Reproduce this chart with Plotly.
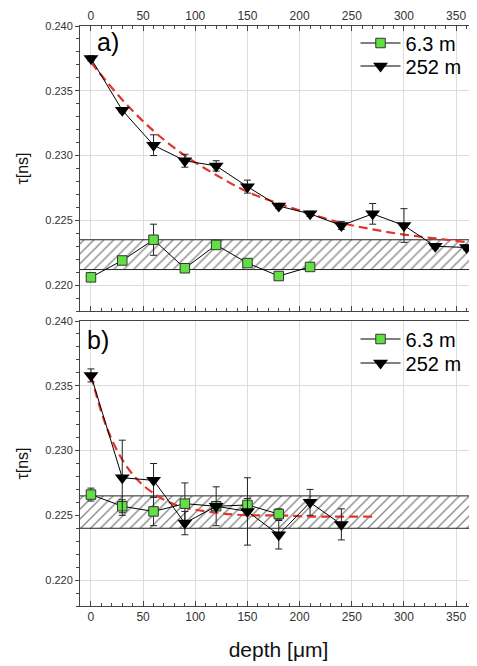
import plotly.graph_objects as go

# ---------------- data ----------------
depth_a_63 = [0, 30, 60, 90, 120, 150, 180, 210]
tau_a_63 = [0.2206, 0.2219, 0.2235, 0.2213, 0.2231, 0.2217, 0.2207, 0.2214]
err_a_63 = [0.0001, 0.0003, 0.0012, 0.0001, 0.0001, 0.0001, 0.0001, 0.0001]

depth_a_252 = [0, 30, 60, 90, 120, 150, 180, 210, 240, 270, 300, 330, 360]
tau_a_252 = [0.2375, 0.2335, 0.2308, 0.2296, 0.2292, 0.2276, 0.2261, 0.2255,
             0.2246, 0.2255, 0.2246, 0.2230, 0.2229]
err_a_252 = [0.0002, 0.0002, 0.0008, 0.0005, 0.0004, 0.0005, 0.0002, 0.0002,
             0.0003, 0.0008, 0.0013, 0.0002, 0.0002]

fit_a_x = [0, 30, 60, 90, 120, 150, 180, 210, 240, 270, 300, 330, 372]
fit_a_y = [0.2372, 0.2343, 0.2319, 0.2300, 0.2285, 0.2272, 0.2263, 0.2255,
           0.2248, 0.2243, 0.2239, 0.2236, 0.2232]

band_a = [0.2212, 0.2235]

depth_b_63 = [0, 30, 60, 90, 120, 150, 180]
tau_b_63 = [0.2266, 0.2257, 0.2253, 0.2259, 0.2257, 0.2258, 0.2251]
err_b_63 = [0.0005, 0.0005, 0.0011, 0.0016, 0.0003, 0.0005, 0.0004]

depth_b_252 = [0, 30, 60, 90, 120, 150, 180, 210, 240]
tau_b_252 = [0.2358, 0.2279, 0.2277, 0.2244, 0.2257, 0.2253, 0.2235, 0.2260, 0.2243]
err_b_252 = [0.0005, 0.0029, 0.0013, 0.0009, 0.0015, 0.0026, 0.0011, 0.0010, 0.0012]

fit_b_x = [0, 15, 30, 45, 60, 75, 90, 120, 150, 180, 210, 240, 270]
fit_b_y = [0.2358, 0.2318, 0.2293, 0.2277, 0.2267, 0.2260, 0.2256, 0.2252,
           0.2250, 0.2250, 0.2249, 0.2249, 0.2249]

band_b = [0.2240, 0.2265]

x_ticks = [0, 50, 100, 150, 200, 250, 300, 350]
y_ticks = [0.220, 0.225, 0.230, 0.235, 0.240]
series_names = ["6.3 m", "252 m"]
panel_labels = ["a)", "b)"]

# ---------------- styling ----------------
FONT = "Liberation Sans, Arial, sans-serif"
GREEN = "#62df45"
RED = "#e3342b"
X_RANGE = [-10.5, 370]
Y_RANGE = [0.218, 0.240]

# the page body has an 8px margin -> figure coords = page coords - 8
OFF = 8
W, H = 477 - OFF, 666 - OFF
top_px, bot_px = 26 - OFF, 606 - OFF
left_px = 80 - OFF
plot_h = bot_px - top_px


def paper_y(page_py):
    return (bot_px - (page_py - OFF)) / plot_h


fig = go.Figure()


def add_panel(xa, ya, legs, band, fx, fy, d63, t63, e63, d252, t252, e252):
    bx = [-30, 420, 420, -30, -30]
    by = [band[0], band[0], band[1], band[1], band[0]]
    fig.add_trace(go.Scatter(
        x=bx, y=by, xaxis=xa, yaxis=ya, mode="none", fill="toself",
        fillcolor="white",
        fillpattern=dict(shape="/", fgcolor="#151515", bgcolor="white",
                         size=7, solidity=0.2),
        showlegend=False, hoverinfo="skip"))
    for yv in band:
        fig.add_trace(go.Scatter(
            x=[-30, 420], y=[yv, yv], xaxis=xa, yaxis=ya, mode="lines",
            line=dict(color="#222222", width=1), showlegend=False,
            hoverinfo="skip"))
    fig.add_trace(go.Scatter(
        x=fx, y=fy, xaxis=xa, yaxis=ya, mode="lines", line_shape="spline",
        line=dict(color=RED, width=2.2, dash="9px,5px"), showlegend=False,
        hoverinfo="skip"))
    fig.add_trace(go.Scatter(
        x=d63, y=t63, xaxis=xa, yaxis=ya, mode="lines+markers",
        name=series_names[0], legend=legs[0],
        line=dict(color="black", width=1),
        marker=dict(symbol="square", size=9.5, color=GREEN,
                    line=dict(color="#333333", width=1)),
        error_y=dict(type="data", array=e63, color="#222222",
                     thickness=1, width=3.5)))
    fig.add_trace(go.Scatter(
        x=d252, y=t252, xaxis=xa, yaxis=ya, mode="lines+markers",
        name=series_names[1], legend=legs[1],
        line=dict(color="black", width=1),
        marker=dict(symbol="triangle-down", size=13, color="black",
                    line=dict(color="black", width=0)),
        error_y=dict(type="data", array=e252, color="#222222",
                     thickness=1, width=3.5)))


add_panel("x", "y", ["legend", "legend2"], band_a, fit_a_x, fit_a_y,
          depth_a_63, tau_a_63, err_a_63, depth_a_252, tau_a_252, err_a_252)
add_panel("x2", "y2", ["legend3", "legend4"], band_b, fit_b_x, fit_b_y,
          depth_b_63, tau_b_63, err_b_63, depth_b_252, tau_b_252, err_b_252)

dom_a = [paper_y(311), 1.0]
dom_b = [0.0, paper_y(321)]

common_x = dict(range=X_RANGE, tickvals=x_ticks, showgrid=True,
                gridcolor="#dcdcdc", gridwidth=1, zeroline=False,
                showline=True, linecolor="#444444", linewidth=1,
                ticks="inside", ticklen=5, tickcolor="#444444",
                automargin=False,
                minor=dict(dtick=10, tick0=0, ticks="inside", ticklen=3,
                           tickcolor="#444444", showgrid=False),
                tickfont=dict(family=FONT, size=12, color="#333333"))
common_y = dict(range=Y_RANGE, tickvals=y_ticks, tickformat=".3f",
                showgrid=True, gridcolor="#dcdcdc", gridwidth=1,
                zeroline=False, showline=True, linecolor="#444444",
                linewidth=1, ticks="outside", ticklen=4, tickcolor="#444444",
                automargin=False,
                minor=dict(dtick=0.001, tick0=0.218, ticks="outside",
                           ticklen=3, tickcolor="#444444", showgrid=False),
                tickfont=dict(family=FONT, size=11, color="#333333"),
                title=dict(text="τ[ns]", standoff=12,
                           font=dict(family=FONT, size=16, color="#111111")))

legend_common = dict(font=dict(family=FONT, size=20, color="black"),
                     bgcolor="rgba(0,0,0,0)", borderwidth=0,
                     xanchor="left", yanchor="middle", itemwidth=40)
LEG_X = 0.694

fig.update_layout(
    width=W, height=H,
    margin=dict(l=left_px, r=0, t=top_px, b=H - bot_px, pad=0),
    plot_bgcolor="white", paper_bgcolor="white",
    xaxis=dict(common_x, domain=[0, 1], anchor="y", side="top",
               mirror="ticks"),
    yaxis=dict(common_y, domain=dom_a, anchor="x"),
    xaxis2=dict(common_x, domain=[0, 1], anchor="y2", side="bottom",
                mirror=True,
                title=dict(text="depth [μm]",
                           font=dict(family=FONT, size=21, color="#111111"),
                           standoff=18)),
    yaxis2=dict(common_y, domain=dom_b, anchor="x2"),
    legend=dict(legend_common, x=LEG_X, y=paper_y(43)),
    legend2=dict(legend_common, x=LEG_X, y=paper_y(66)),
    legend3=dict(legend_common, x=LEG_X, y=paper_y(339)),
    legend4=dict(legend_common, x=LEG_X, y=paper_y(363)),
    showlegend=True,
    annotations=[
        dict(text=panel_labels[0], xref="x", yref="y", x=4, y=0.2388,
             xanchor="left", yanchor="middle", showarrow=False,
             font=dict(family=FONT, size=25, color="black")),
        dict(text=panel_labels[1], xref="x2", yref="y2", x=-6, y=0.2385,
             xanchor="left", yanchor="middle", showarrow=False,
             font=dict(family=FONT, size=25, color="black")),
    ],
)

fig.write_html("out.html")
